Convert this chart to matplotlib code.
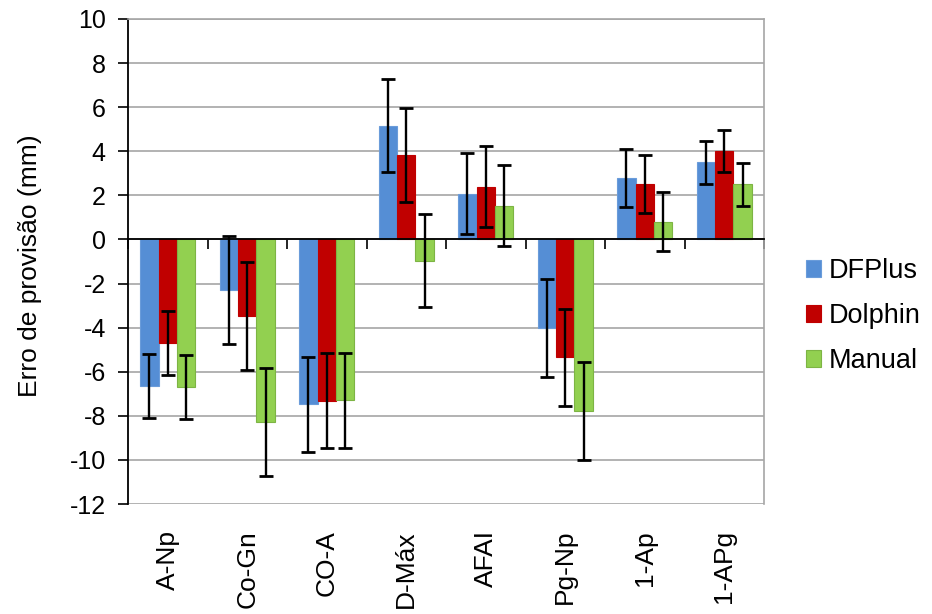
import matplotlib
matplotlib.use("Agg")
import matplotlib.pyplot as plt
import matplotlib.transforms as mtransforms
import numpy as np

categories = ["A-Np", "Co-Gn", "CO-A", "D-Máx", "AFAI", "Pg-Np", "1-Ap", "1-APg"]
series_names = ["DFPlus", "Dolphin", "Manual"]
dfplus = [-6.65, -2.31, -7.48, 5.16, 2.07, -4.00, 2.78, 3.50]
dolphin = [-4.70, -3.48, -7.31, 3.83, 2.40, -5.35, 2.50, 4.01]
manual = [-6.68, -8.30, -7.29, -0.96, 1.54, -7.78, 0.81, 2.50]
dfplus_err = [1.45, 2.45, 2.17, 2.11, 1.83, 2.22, 1.33, 0.98]
dolphin_err = [1.47, 2.45, 2.16, 2.12, 1.83, 2.20, 1.32, 0.97]
manual_err = [1.45, 2.45, 2.16, 2.11, 1.83, 2.22, 1.33, 0.97]
yticks = list(range(-12, 11, 2))

colors = ["#558ED5", "#C00000", "#92D050"]
edges = ["#6A9CDA", "#C00000", "#7DB444"]

plt.rcParams['font.family'] = ['Liberation Sans', 'DejaVu Sans']

fig = plt.figure(figsize=(9.32, 6.14), dpi=100)
ax = fig.add_axes([128 / 932, 1 - 504 / 614, (764 - 128) / 932, (504 - 19) / 614])

x = np.arange(len(categories)) + 0.5
w = 0.23
values = [dfplus, dolphin, manual]
errs = [dfplus_err, dolphin_err, manual_err]
for i, (vals, err) in enumerate(zip(values, errs)):
    pos = x + (i - 1) * w
    ax.bar(pos, vals, width=w, color=colors[i], edgecolor=edges[i], linewidth=0.8,
           label=series_names[i], zorder=3)
    ax.errorbar(pos, vals, yerr=err, fmt='none', ecolor='black', elinewidth=1.7,
                capsize=5, capthick=2, zorder=4)

ax.set_xlim(0, len(categories))
ax.set_ylim(-12, 10)
ax.set_yticks(yticks)
ax.set_yticklabels([str(t) for t in yticks])
ax.yaxis.grid(True, color='#A6A6A6', linewidth=1.2, zorder=0)
ax.set_axisbelow(True)

# x axis at zero with ticks at category boundaries
ax.spines['bottom'].set_position(('data', 0))
ax.spines['bottom'].set_color('black')
ax.spines['bottom'].set_linewidth(1.3)
ax.spines['bottom'].set_zorder(5)
ax.set_xticks(np.arange(0, len(categories) + 1))
ax.set_xticklabels([])
ax.tick_params(axis='x', direction='out', length=7, width=1.2, color='black')

ax.spines['left'].set_color('black')
ax.spines['left'].set_linewidth(1.3)
ax.spines['top'].set_color('#A6A6A6')
ax.spines['right'].set_color('#A6A6A6')
ax.spines['right'].set_linewidth(1.2)
ax.spines['top'].set_linewidth(1.2)
ax.tick_params(axis='y', direction='out', length=7, width=1.2, pad=9, labelsize=18,
               colors='black')

trans = mtransforms.blended_transform_factory(ax.transData, ax.transAxes)
for xi, lab in zip(x, categories):
    ax.text(xi, -26 / 485, lab, transform=trans, rotation=90, ha='center', va='top',
            fontsize=19)

ax.set_ylabel("Erro de provisão (mm)", fontsize=19, va='center')
ax.yaxis.set_label_coords((30 - 128) / 636, (504 - 266) / 485)

leg = fig.legend(loc='center left', bbox_to_anchor=(806 / 932, 1 - 316 / 614), frameon=False,
                 fontsize=19.5, handlelength=0.55, handleheight=0.55, handletextpad=0.3,
                 labelspacing=0.7, borderpad=0, borderaxespad=0)

fig.savefig("out.png", dpi=100)
